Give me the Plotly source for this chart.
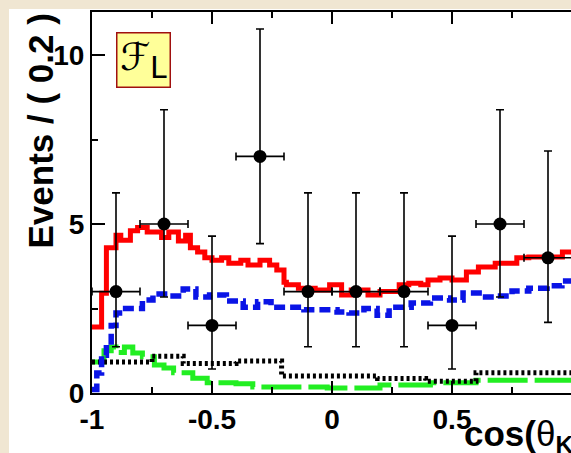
import plotly.graph_objects as go

# ---------------- data ----------------
# data points (bin centres, counts, asymmetric Poisson errors)
bin_centers = [-0.9, -0.7, -0.5, -0.3, -0.1, 0.1, 0.3, 0.5, 0.7, 0.9]
counts = [3, 5, 2, 7, 3, 3, 3, 2, 5, 4]
err_up = [2.92, 3.38, 2.64, 3.77, 2.92, 2.92, 2.92, 2.64, 3.38, 3.16]
err_down = [1.63, 2.16, 1.29, 2.58, 1.63, 1.63, 1.63, 1.29, 2.16, 1.91]
bin_half_width = [0.1] * 10

# total fit (red), step edges and levels
total_x = [-1.0, -0.96, -0.94, -0.90, -0.88, -0.84, -0.81, -0.77, -0.71, -0.68,
           -0.64, -0.61, -0.59, -0.56, -0.53, -0.50, -0.46, -0.43, -0.38, -0.35,
           -0.30, -0.26, -0.23, -0.20, -0.19, -0.14, -0.07, -0.01, 0.04, 0.08,
           0.15, 0.20, 0.28, 0.32, 0.37, 0.40, 0.45, 0.50, 0.56, 0.61,
           0.68, 0.77, 0.82, 0.96, 1.0]
total_y = [1.95, 2.95, 4.30, 4.67, 4.52, 4.80, 4.90, 4.76, 4.60, 4.76,
           4.50, 4.67, 4.30, 4.17, 4.00, 3.93, 4.00, 3.84, 3.93, 3.79,
           3.93, 3.79, 3.64, 3.28, 3.20, 3.10, 3.05, 3.20, 2.90, 3.05,
           2.90, 3.00, 3.20, 3.25, 3.20, 3.34, 3.40, 3.34, 3.58, 3.73,
           3.84, 4.00, 4.02, 4.17, 4.17]

# signal component (blue dashed)
sig_x = [-1.0, -0.98, -0.96, -0.94, -0.92, -0.90, -0.86, -0.79, -0.746, -0.683,
         -0.62, -0.567, -0.51, -0.44, -0.37, -0.31, -0.254, -0.117, 0.021, 0.071,
         0.133, 0.188, 0.238, 0.33, 0.41, 0.49, 0.546, 0.613, 0.683, 0.75,
         0.82, 0.896, 0.958, 1.0]
sig_y = [0.10, 0.59, 1.12, 1.42, 2.00, 2.37, 2.50, 2.75, 2.93, 2.87,
         3.08, 2.84, 2.90, 2.72, 2.54, 2.70, 2.54, 2.46, 2.40, 2.37,
         2.50, 2.30, 2.54, 2.66, 2.81, 2.75, 2.96, 2.84, 2.87, 3.02,
         3.10, 3.17, 3.31, 3.31]

# background component 1 (green long-dashed)
bkg1_x = [-1.0, -0.95, -0.92, -0.90, -0.865, -0.83, -0.79, -0.74, -0.70, -0.66,
          -0.58, -0.52, -0.40, -0.33, -0.02, 0.20, 0.41, 0.60, 1.0]
bkg1_y = [0.92, 1.25, 1.36, 1.20, 1.36, 1.18, 1.07, 0.83, 0.74, 0.60,
          0.44, 0.30, 0.27, 0.18, 0.15, 0.24, 0.30, 0.38, 0.38]

# background component 2 (black dotted)
bkg2_x = [-1.0, -0.75, -0.62, -0.40, -0.21, 0.19, 0.39, 0.60, 1.0]
bkg2_y = [0.92, 1.09, 0.87, 0.95, 0.50, 0.43, 0.35, 0.60, 0.60]

x_tick_vals = [-1, -0.5, 0, 0.5, 1]
x_tick_text = ["-1", "-0.5", "0", "0.5", "1"]
y_tick_vals = [0, 5, 10]
y_tick_text = ["0", "5", "10"]

# ---------------- figure ----------------
W, H = 571, 453
ML, MT, MB, MR = 92, 12, 60, 0
PW, PH = W - ML - MR, H - MT - MB


def px2paper_x(px):
    return (px - ML) / PW


def py2paper_y(py):
    return (H - MB - py) / PH


fig = go.Figure()

fig.add_trace(go.Scatter(x=bkg1_x, y=bkg1_y, mode="lines", line_shape="hv",
                         line=dict(color="#22ee22", width=5, dash="40px,7px"),
                         hoverinfo="skip", showlegend=False))
fig.add_trace(go.Scatter(x=bkg2_x, y=bkg2_y, mode="lines", line_shape="hv",
                         line=dict(color="black", width=5, dash="3px,3px"),
                         hoverinfo="skip", showlegend=False))
fig.add_trace(go.Scatter(x=sig_x, y=sig_y, mode="lines", line_shape="hv",
                         line=dict(color="#0a14e6", width=5.5, dash="11px,5px"),
                         hoverinfo="skip", showlegend=False))
fig.add_trace(go.Scatter(x=total_x, y=total_y, mode="lines", line_shape="hv",
                         line=dict(color="#ff0000", width=5),
                         hoverinfo="skip", showlegend=False))
fig.add_trace(go.Scatter(
    x=bin_centers, y=counts, mode="markers",
    marker=dict(color="black", size=13, symbol="circle"),
    error_y=dict(type="data", symmetric=False, array=err_up, arrayminus=err_down,
                 color="black", thickness=1.6, width=4),
    error_x=dict(type="data", array=bin_half_width, color="black",
                 thickness=1.6, width=4),
    showlegend=False))

tickfont = dict(family="Liberation Sans, Arial, sans-serif", size=28,
                color="black", weight="bold")

fig.update_layout(
    width=W, height=H,
    margin=dict(l=ML, r=MR, t=MT, b=MB, pad=0),
    paper_bgcolor="#f0e6d2",
    plot_bgcolor="white",
    xaxis=dict(range=[-1.0, -1.0 + PW / 240.0], showgrid=False, zeroline=False,
               showline=True, linecolor="black", linewidth=2, mirror="allticks",
               ticks="inside", ticklen=12, tickwidth=2, tickcolor="black",
               tickvals=x_tick_vals, ticktext=x_tick_text, tickfont=tickfont,
               minor=dict(ticks="inside", dtick=0.25, ticklen=6, tickwidth=2,
                          tickcolor="black", showgrid=False)),
    yaxis=dict(range=[0, PH / 33.8], showgrid=False, zeroline=False,
               showline=True, linecolor="black", linewidth=2,
               ticks="inside", ticklen=13, tickwidth=2, tickcolor="black",
               tickvals=y_tick_vals, ticktext=y_tick_text, tickfont=tickfont,
               minor=dict(ticks="inside", dtick=2.5, ticklen=6, tickwidth=2,
                          tickcolor="black", showgrid=False)),
    shapes=[dict(type="rect", xref="paper", yref="paper", layer="below",
                 x0=px2paper_x(9), x1=1.05, y0=py2paper_y(H + 20), y1=py2paper_y(9),
                 fillcolor="white", line=dict(width=0))],
    annotations=[
        dict(text="Events / ( 0.2 )", textangle=-90, xref="paper", yref="paper",
             x=px2paper_x(40), y=py2paper_y(12), xanchor="center", yanchor="top",
             showarrow=False,
             font=dict(family="Liberation Sans, Arial, sans-serif", size=35,
                       color="black", weight="bold")),
        dict(text="cos(<span style='font-weight:normal'>θ</span><sub>K</sub>)",
             xref="paper", yref="paper",
             x=px2paper_x(462), y=py2paper_y(436), xanchor="left", yanchor="middle",
             showarrow=False,
             font=dict(family="Liberation Sans, Arial, sans-serif", size=35,
                       color="black", weight="bold")),
        dict(text="<i>ℱ</i><sub><span style='font-size:30px'>L</span></sub>",
             xref="paper", yref="paper",
             x=px2paper_x(143), y=py2paper_y(60), xanchor="center", yanchor="middle",
             showarrow=False, width=52, height=53, borderpad=0,
             bgcolor="#ffff99", bordercolor="#a01010", borderwidth=1.5,
             font=dict(family="DejaVu Sans, sans-serif", size=38, color="black")),
    ],
)

fig.write_html("out.html")
